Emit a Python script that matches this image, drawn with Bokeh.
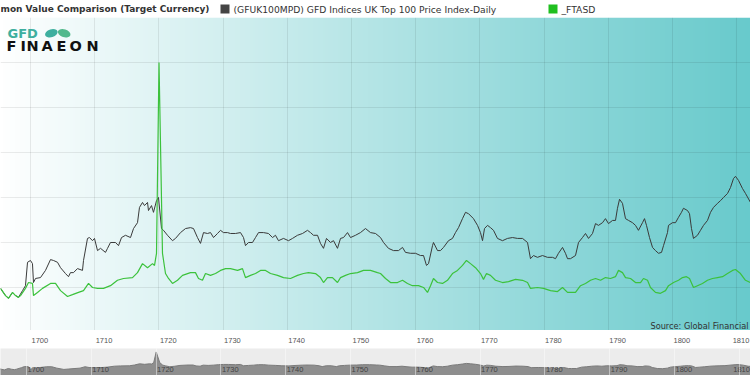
import numpy as np
from bokeh.plotting import figure
from bokeh.models import Range1d, FixedTicker, Label, LabelSet, ColumnDataSource
from bokeh.layouts import column
from bokeh.embed import file_html
from bokeh.resources import INLINE
from bokeh.core.properties import value

# ---------------- data ----------------
uk_years = [1695.33, 1696.11, 1696.58, 1697.20, 1697.67, 1698.13, 1698.76, 1699.22, 1699.54, 1700.00,
            1700.31, 1700.47, 1700.78, 1701.56, 1702.34, 1703.12, 1703.59, 1704.21, 1704.68, 1705.45,
            1705.92, 1706.23, 1706.70, 1707.32, 1708.10, 1708.26, 1708.88, 1709.19, 1709.66, 1709.97,
            1710.44, 1710.91, 1711.68, 1712.00, 1712.46, 1713.24, 1713.71, 1714.18, 1714.80, 1715.58,
            1716.05, 1716.67, 1716.98, 1717.45, 1717.76, 1718.23, 1718.38, 1718.85, 1719.16, 1719.63,
            1719.94, 1720.41, 1720.72, 1721.34, 1722.12, 1722.59, 1723.37, 1724.15, 1724.92, 1725.39,
            1726.01, 1726.48, 1726.95, 1727.57, 1728.04, 1728.51, 1729.13, 1729.60, 1730.06, 1730.69,
            1731.15, 1731.93, 1732.71, 1733.18, 1733.49, 1733.96, 1734.58, 1735.05, 1735.52, 1736.29,
            1737.07, 1737.70, 1738.16, 1738.63, 1739.41, 1740.19, 1740.81, 1741.59, 1742.37, 1743.15,
            1743.62, 1744.08, 1744.71, 1745.17, 1745.64, 1746.11, 1746.73, 1747.20, 1747.82, 1748.29,
            1748.76, 1749.38, 1749.85, 1750.62, 1751.40, 1752.18, 1752.96, 1753.74, 1754.52, 1754.99,
            1755.76, 1756.54, 1757.32, 1757.95, 1758.41, 1759.19, 1759.97, 1760.75, 1761.22, 1761.68,
            1762.00, 1762.62, 1762.77, 1763.40, 1763.86, 1764.33, 1765.11, 1765.73, 1766.20, 1766.67,
            1767.29, 1767.76, 1768.23, 1769.00, 1769.63, 1770.09, 1770.41, 1770.72, 1771.19, 1771.65,
            1772.12, 1772.74, 1773.52, 1774.30, 1775.08, 1775.86, 1776.64, 1777.42, 1777.88, 1778.35,
            1778.97, 1779.75, 1780.53, 1781.31, 1781.78, 1782.24, 1782.87, 1783.33, 1783.65, 1784.11,
            1784.89, 1785.36, 1785.98, 1786.45, 1786.92, 1787.54, 1788.01, 1788.47, 1789.10, 1789.56,
            1790.03, 1790.66, 1791.12, 1791.43, 1791.75, 1792.21, 1792.68, 1793.15, 1793.77, 1794.24,
            1794.70, 1795.33, 1795.64, 1795.95, 1796.42, 1796.89, 1797.35, 1797.82, 1798.29, 1798.60,
            1799.22, 1799.38, 1800.00, 1800.47, 1800.94, 1801.40, 1801.71, 1802.34, 1802.65, 1802.96,
            1803.27, 1803.89, 1804.36, 1804.83, 1805.45, 1805.92, 1806.39, 1807.01, 1807.48, 1807.94,
            1808.57, 1809.03, 1809.50, 1809.81, 1810.28, 1810.90, 1811.37, 1812.15]
uk_values = [9.8, 8.2, 7.6, 8.9, 8.2, 7.8, 9.3, 10.4, 15.6, 16.0,
             15.3, 11.1, 12.0, 12.2, 13.8, 16.2, 16.0, 15.6, 14.4, 13.1,
             12.4, 13.3, 13.3, 14.2, 13.8, 16.0, 20.9, 21.1, 20.4, 20.9,
             18.2, 18.7, 17.8, 18.7, 20.0, 20.0, 19.3, 21.1, 21.6, 21.1,
             23.1, 24.4, 27.8, 28.9, 28.2, 28.9, 27.1, 28.2, 26.7, 29.3,
             30.0, 23.1, 22.7, 21.6, 20.4, 20.9, 22.2, 23.1, 23.3, 23.1,
             21.1, 19.8, 22.2, 22.0, 22.2, 21.1, 22.0, 22.7, 22.2, 22.2,
             22.0, 22.0, 22.2, 21.1, 19.3, 20.0, 20.0, 21.1, 22.2, 22.2,
             22.0, 21.1, 21.6, 20.4, 20.9, 20.4, 20.9, 21.6, 22.0, 22.7,
             22.2, 21.6, 21.6, 19.8, 18.7, 20.9, 20.0, 20.4, 18.7, 20.9,
             21.1, 22.2, 21.1, 21.6, 22.2, 23.1, 22.2, 22.0, 21.1, 20.0,
             18.7, 18.2, 18.2, 18.9, 17.8, 17.6, 17.6, 17.1, 17.1, 14.9,
             15.3, 19.3, 20.0, 18.2, 18.2, 18.9, 20.4, 20.9, 22.2, 23.3,
             25.3, 26.7, 26.4, 25.3, 23.8, 22.2, 20.4, 23.1, 23.8, 23.3,
             22.7, 20.9, 20.4, 20.9, 21.1, 20.9, 20.9, 20.0, 16.4, 17.1,
             16.7, 17.1, 16.7, 16.7, 16.4, 17.6, 18.9, 17.6, 16.4, 16.4,
             17.1, 20.0, 21.1, 22.0, 20.9, 22.0, 24.2, 23.8, 24.4, 25.3,
             24.2, 24.9, 24.9, 27.6, 29.6, 28.7, 25.3, 24.9, 24.4, 23.8,
             22.7, 24.4, 25.3, 23.8, 21.1, 18.9, 18.2, 17.6, 17.8, 19.3,
             22.2, 23.8, 24.4, 24.4, 25.6, 26.7, 27.6, 27.1, 26.4, 23.1,
             20.9, 21.6, 22.7, 23.8, 24.9, 26.7, 27.8, 28.7, 29.3, 30.0,
             30.9, 32.2, 34.2, 34.7, 33.8, 32.0, 30.9, 28.9]

ftasd_years = [1695.33, 1696.11, 1696.58, 1697.20, 1697.67, 1698.13, 1698.45, 1699.22, 1699.69, 1700.31,
               1700.47, 1701.09, 1701.87, 1703.12, 1703.90, 1704.68, 1705.77, 1706.54, 1707.48, 1708.26,
               1709.04, 1709.66, 1710.44, 1711.37, 1712.46, 1713.55, 1714.49, 1715.89, 1716.67, 1717.45,
               1718.23, 1719.01, 1719.32, 1719.63, 1720.02, 1720.56, 1721.03, 1721.50, 1722.12, 1722.90,
               1723.68, 1724.92, 1725.70, 1726.17, 1726.79, 1727.26, 1728.04, 1728.82, 1729.60, 1730.38,
               1731.15, 1732.25, 1733.02, 1733.49, 1734.27, 1735.05, 1735.83, 1736.61, 1737.39, 1738.48,
               1739.41, 1740.50, 1741.59, 1742.53, 1743.30, 1744.39, 1745.17, 1745.64, 1746.26, 1747.04,
               1747.82, 1748.29, 1749.07, 1749.85, 1750.94, 1751.87, 1752.96, 1754.05, 1754.52, 1755.30,
               1756.08, 1757.17, 1757.95, 1758.72, 1759.50, 1760.44, 1761.22, 1761.84, 1762.31, 1762.77,
               1763.40, 1764.18, 1764.95, 1765.73, 1766.51, 1767.29, 1767.91, 1768.54, 1769.32, 1770.09,
               1770.56, 1771.03, 1771.65, 1772.43, 1773.52, 1774.46, 1775.55, 1776.64, 1777.42, 1777.88,
               1778.97, 1779.91, 1781.00, 1782.09, 1782.87, 1783.65, 1784.11, 1784.89, 1785.67, 1786.45,
               1787.23, 1788.01, 1788.79, 1789.56, 1790.34, 1791.12, 1791.59, 1792.21, 1792.68, 1793.46,
               1794.24, 1795.02, 1795.48, 1796.11, 1796.57, 1797.35, 1798.13, 1798.91, 1799.38, 1800.16,
               1800.94, 1801.56, 1802.18, 1802.65, 1803.27, 1803.89, 1804.67, 1805.45, 1806.23, 1807.01,
               1807.79, 1808.57, 1809.35, 1809.81, 1810.59, 1811.37, 1812.15]
ftasd_values = [9.8, 8.2, 7.6, 8.9, 8.2, 7.8, 8.2, 9.8, 11.1, 10.9,
                8.2, 8.9, 9.8, 10.9, 10.9, 9.3, 8.0, 8.4, 8.9, 9.3,
                10.9, 10.0, 9.8, 9.8, 10.4, 11.6, 12.0, 12.2, 13.3, 15.3,
                14.4, 15.3, 14.9, 17.6, 60.0, 17.6, 13.1, 12.0, 10.9, 11.6,
                12.7, 13.3, 13.3, 12.0, 11.6, 13.1, 12.7, 13.1, 13.8, 14.2,
                14.2, 13.8, 14.2, 12.2, 12.7, 13.1, 13.8, 13.8, 13.1, 12.7,
                12.2, 12.0, 12.7, 13.1, 13.3, 13.1, 12.2, 11.1, 12.2, 12.2,
                11.1, 12.2, 12.7, 13.1, 13.3, 13.8, 13.8, 13.3, 13.1, 12.0,
                11.1, 11.1, 11.6, 10.9, 10.4, 10.4, 10.0, 8.9, 10.4, 12.0,
                11.1, 10.9, 11.6, 13.1, 13.8, 14.9, 16.0, 15.3, 14.4, 13.1,
                11.8, 13.1, 12.7, 11.6, 11.1, 11.3, 11.8, 11.6, 11.1, 9.8,
                10.0, 9.8, 9.3, 9.1, 10.0, 8.9, 8.9, 8.9, 10.4, 10.9,
                11.6, 12.0, 11.6, 12.2, 12.0, 12.4, 13.8, 13.3, 12.2, 12.0,
                11.1, 11.1, 12.0, 11.6, 10.0, 8.9, 8.7, 9.3, 10.4, 11.1,
                11.6, 12.2, 12.4, 12.0, 10.0, 10.4, 10.9, 11.6, 12.0, 12.2,
                12.4, 13.1, 13.8, 14.0, 13.1, 11.6, 11.1]

tick_years = [1700, 1710, 1720, 1730, 1740, 1750, 1760, 1770, 1780, 1790, 1800, 1810]
tick_labels = [str(y) for y in tick_years]
grid_values = [10, 20, 30, 40, 50, 60, 70]
title_text = "mon Value Comparison (Target Currency)"
series_names = ["(GFUK100MPD) GFD Indices UK Top 100 Price Index-Daily", "_FTASD"]
legend_colors = ["#444444", "#1fbf1f"]
line_colors = ["#3a3a3a", "#3cc23c"]
source_text = "Source: Global Financial"

W = 750
FONT = "DejaVu Sans"
LFONT = "Liberation Sans"


def bare(height, x_range, y_range, **kw):
    f = figure(width=W, height=height, x_range=x_range, y_range=y_range,
               toolbar_location=None, output_backend="svg",
               x_axis_location=None, y_axis_location=None, min_border=0, **kw)
    f.outline_line_color = None
    return f


# ---------------- header (title + legend) ----------------
hdr = bare(17, Range1d(0, W), Range1d(0, 17))
hdr.grid.visible = False
hdr.text(x=[0], y=[8.5], text=[title_text], text_align="left", text_baseline="middle",
         text_font=value(FONT), text_font_style="bold", text_font_size="9px", text_color="#333333")
hdr.rect(x=[224.5, 552.5], y=[8.5, 8.5], width=9, height=9, fill_color=legend_colors, line_color=None)
hdr.text(x=[233, 561], y=[8.5, 8.5], text=series_names, text_align="left", text_baseline="middle",
         text_font=value(FONT), text_font_size="9.2px", text_color="#333333")

# ---------------- main chart ----------------
x0, x1 = 1695.33, 1812.15
y0, y1 = 0.44, 70.0
p = bare(313, Range1d(x0, x1), Range1d(y0, y1))

# horizontal gradient background, white -> teal
n = 300
t = np.linspace(0.0, 1.0, n)
img = np.zeros((1, n), dtype=np.uint32)
view = img.view(dtype=np.uint8).reshape((1, n, 4))
view[0, :, 0] = (255 + (104 - 255) * t).astype(np.uint8)
view[0, :, 1] = (255 + (202 - 255) * t).astype(np.uint8)
view[0, :, 2] = (255 + (204 - 255) * t).astype(np.uint8)
view[0, :, 3] = 255
p.image_rgba(image=[img], x=x0, y=y0, dw=x1 - x0, dh=y1 - y0, level="image")

p.xgrid.ticker = FixedTicker(ticks=tick_years)
p.ygrid.ticker = FixedTicker(ticks=grid_values)
p.grid.grid_line_color = "#000000"
p.grid.grid_line_alpha = 0.08

p.line(uk_years, uk_values, line_color=line_colors[0], line_width=1)
p.line(ftasd_years, ftasd_values, line_color=line_colors[1], line_width=1.2)

# logo (screen units from the frame's bottom-left corner)
p.add_layout(Label(x=7, y=297.5, x_units="screen", y_units="screen", text="GFD",
                   text_font=FONT, text_font_style="bold", text_font_size="13px",
                   text_color="#3eaf9f", text_baseline="middle"))
p.ellipse(x=[1703.25, 1705.25], y=[66.5, 66.5], width=[13, 13], height=[8, 8],
          width_units="screen", height_units="screen", angle=[0.3, -0.3],
          fill_color=["#3eaf9f", "#52b98c"], line_color=None)
for ch, lx in zip("FINAEON", [6, 20, 26, 41, 56, 69, 86]):
    p.add_layout(Label(x=lx, y=285, x_units="screen", y_units="screen", text=ch,
                       text_font=FONT, text_font_style="bold", text_font_size="14.5px",
                       text_color="#111111", text_baseline="middle"))
# source
p.add_layout(Label(x=748, y=5, x_units="screen", y_units="screen", text=source_text,
                   text_font=FONT, text_font_size="8.2px", text_color="#333333",
                   text_align="right", text_baseline="middle"))

# ---------------- x-axis strip ----------------
ax = bare(18, p.x_range, Range1d(0, 18))
ax.grid.visible = False
offsets = [1] * (len(tick_years) - 1) + [-4]
axis_src = ColumnDataSource(dict(year=tick_years, label=tick_labels, off=offsets))
ax.add_layout(LabelSet(x="year", y=8, text="label", source=axis_src,
                       x_offset="off", text_align="left", text_baseline="middle",
                       text_font=value(LFONT), text_font_size="7.5px", text_color="#555555"))

# ---------------- navigator ----------------
nav = bare(27, Range1d(1695.99, 1811.73), Range1d(3.98, 89.0), y_axis_type="log")
nav.background_fill_color = "#ececec"
nav.ygrid.visible = False
nav.varea(x=ftasd_years, y1=3.98, y2=ftasd_values, fill_color="#8e8e8e")
nav.line(ftasd_years, ftasd_values, line_color="#7a7a7a", line_width=1)
nav.xgrid.ticker = FixedTicker(ticks=tick_years)
nav.xgrid.grid_line_color = "#ffffff"
nav.xgrid.grid_line_alpha = 0.45
nav.xgrid.level = "overlay"
nav_offsets = [1] * (len(tick_years) - 1) + [-6]
nav_src = ColumnDataSource(dict(year=tick_years, label=tick_labels, off=nav_offsets))
nav.add_layout(LabelSet(x="year", y=6.5, y_units="screen", text="label", source=nav_src,
                        x_offset="off", text_align="left", text_baseline="middle",
                        text_font=value(LFONT), text_font_size="7.5px",
                        text_color="#444444"))

layout = column(hdr, p, ax, nav)
open("out.html", "w").write(file_html(layout, INLINE))
